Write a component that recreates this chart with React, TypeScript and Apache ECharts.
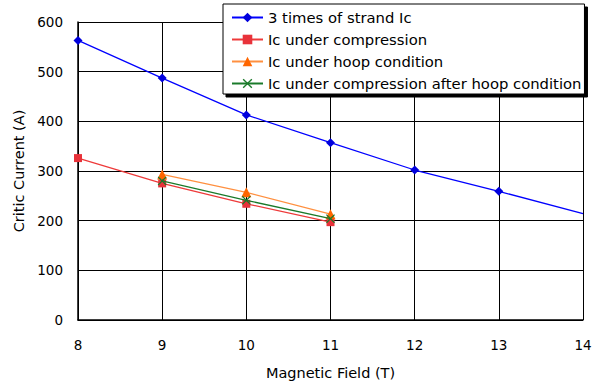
import React, { useEffect, useRef } from "react";
import * as echarts from "echarts";

const fields = [8, 9, 10, 11, 12, 13, 14];
const strandIc3 = [563, 487, 413, 357, 302, 259, 214];
const compression = [[8, 326], [9, 275], [10, 234], [11, 197]];
const hoop = [[9, 293], [10, 257], [11, 213]];
const compAfterHoop = [[9, 280], [10, 241], [11, 204]];
const yTicks = [0, 100, 200, 300, 400, 500, 600];

const FONT = "'DejaVu Sans', 'Noto Sans', sans-serif";
const X_SYMBOL = "path://M0,1L1,0L5,4L9,0L10,1L6,5L10,9L9,10L5,6L1,10L0,9L4,5Z";

export default function App() {
  const ref = useRef<HTMLDivElement>(null);
  useEffect(() => {
    if (!ref.current) return;
    const chart = echarts.init(ref.current, undefined, { renderer: "svg" });
    const blueData = fields.map((f, i) => {
      const item: any = { value: [f, strandIc3[i]] };
      if (i === fields.length - 1) item.symbol = "none";
      return item;
    });
    chart.setOption({
      animation: false,
      backgroundColor: "#ffffff",
      textStyle: { fontFamily: FONT },
      grid: { left: 78, right: 14, top: 22, bottom: 63 },
      legend: {
        orient: "vertical",
        left: 223,
        top: 4,
        padding: [6, 3, 3, 8],
        itemWidth: 31,
        itemHeight: 12,
        itemGap: 7,
        backgroundColor: "#ffffff",
        borderColor: "#000000",
        borderWidth: 1,
        borderRadius: 0,
        shadowColor: "#000000",
        shadowBlur: 0,
        shadowOffsetX: 3,
        shadowOffsetY: 3,
        textStyle: { fontFamily: FONT, fontSize: 14.8, color: "#000000", padding: [0, 0, 0, 0] },
        data: [
          "3 times of strand Ic",
          "Ic under compression",
          "Ic under hoop condition",
          "Ic under compression after hoop condition",
        ],
      },
      xAxis: {
        type: "value",
        min: 8,
        max: 14,
        interval: 1,
        name: "Magnetic Field (T)",
        nameLocation: "middle",
        nameGap: 45,
        nameTextStyle: { fontFamily: FONT, fontSize: 14.5, color: "#000000" },
        axisLine: { show: true, lineStyle: { color: "#000000", width: 1.5 } },
        axisTick: { show: false },
        axisLabel: { fontFamily: FONT, fontSize: 13.5, color: "#000000", margin: 18 },
        splitLine: { show: true, lineStyle: { color: "#000000", width: 1 } },
      },
      yAxis: {
        type: "value",
        min: yTicks[0],
        max: yTicks[yTicks.length - 1],
        interval: 100,
        name: "Critic Current (A)",
        nameLocation: "middle",
        nameGap: 48,
        nameTextStyle: { fontFamily: FONT, fontSize: 14.5, color: "#000000" },
        axisLine: { show: true, lineStyle: { color: "#000000", width: 1.5 } },
        axisTick: { show: false },
        axisLabel: { fontFamily: FONT, fontSize: 13.5, color: "#000000", margin: 15 },
        splitLine: { show: true, lineStyle: { color: "#000000", width: 1 } },
      },
      series: [
        {
          name: "3 times of strand Ic",
          type: "line",
          data: blueData,
          symbol: "diamond",
          symbolSize: 9,
          lineStyle: { color: "#0000ff", width: 1.3 },
          itemStyle: { color: "#0000dd" },
          clip: false,
          z: 5,
        },
        {
          name: "Ic under compression",
          type: "line",
          data: compression,
          symbol: "rect",
          symbolSize: 8,
          lineStyle: { color: "#ee3a3a", width: 1.3 },
          itemStyle: { color: "#e8323a" },
          z: 3,
        },
        {
          name: "Ic under hoop condition",
          type: "line",
          data: hoop,
          symbol: "triangle",
          symbolSize: 10,
          lineStyle: { color: "#ff9040", width: 1.3 },
          itemStyle: { color: "#ff6600" },
          z: 4,
        },
        {
          name: "Ic under compression after hoop condition",
          type: "line",
          data: compAfterHoop,
          symbol: X_SYMBOL,
          symbolSize: 9,
          lineStyle: { color: "#1a7a2a", width: 1.3 },
          itemStyle: { color: "#1a7a2a" },
          z: 6,
        },
      ],
    });
    return () => chart.dispose();
  }, []);
  return <div ref={ref} style={{ width: 597, height: 385, position: "absolute", left: 0, top: 0 }} />;
}
